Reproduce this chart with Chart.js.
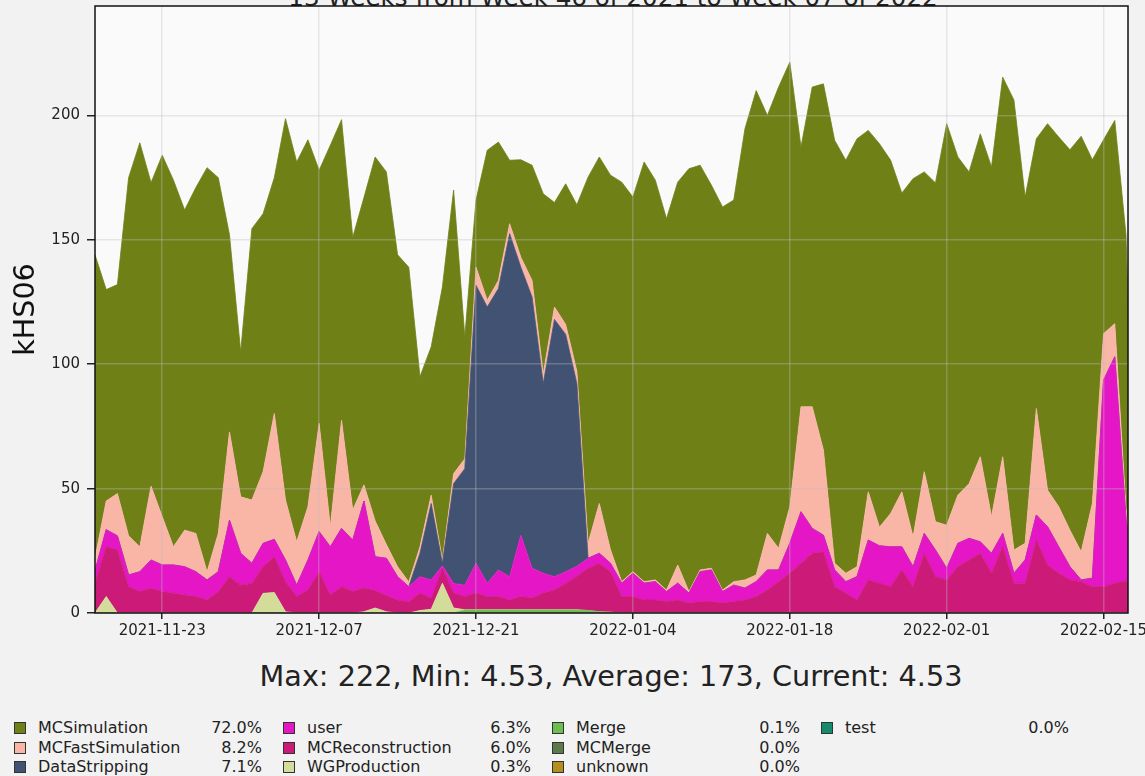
<!DOCTYPE html>
<html>
<head>
<meta charset="utf-8">
<script src="https://cdn.jsdelivr.net/npm/chart.js@4.4.1/dist/chart.umd.min.js"></script>
<style>
  html, body { margin: 0; padding: 0; width: 1145px; height: 776px; overflow: hidden; background: #f2f2f2; font-family: "DejaVu Sans", sans-serif; color: #222; }
  #wrap { position: absolute; left: 0; top: 0; width: 1145px; height: 650px; }
  #title { position: absolute; left: 0; top: -17.5px; width: 1226px; text-align: center; font-size: 24.6px; white-space: nowrap; }
  #stats { position: absolute; left: 0; top: 659px; width: 1222px; text-align: center; font-size: 28.7px; white-space: nowrap; }
  .sq { position: absolute; width: 10px; height: 10px; border: 1px solid #333; }
  .lab, .pct { position: absolute; font-size: 16px; line-height: 19px; white-space: nowrap; }
  .pct { text-align: right; width: 80px; }
</style>
</head>
<body>
<div id="title">13 Weeks from Week 46 of 2021 to Week 07 of 2022</div>
<div id="wrap"><canvas id="chart"></canvas></div>
<div id="stats">Max: 222, Min: 4.53, Average: 173, Current: 4.53</div>
<div id="legend"></div>
<script>
// daily values, first day 2021-11-17
const MCSimulation = [122, 85, 84, 144, 162.4, 122, 145.3, 147.4, 128.7, 139, 162.4, 143, 79.2, 58.3, 109.1, 103.7, 94.8, 153.3, 152.7, 147.5,
  101.8, 153.3, 120.8, 109.6, 115.5, 146.3, 149.8, 125.4, 126.5, 68.4, 59.6, 109.7, 114, 49, 27, 60.3, 55.6, 25.5, 39.2, 46.3,
  72.5, 42, 56.5, 66.9, 147.2, 139.3, 150.6, 160.6, 150.6, 168.7, 160.7, 149.3, 153.9, 170, 162.7, 154, 154, 153.4, 181.4, 194.7,
  168, 185.4, 178.7, 104.4, 128.5, 147.2, 170, 166, 172, 145.3, 154.1, 142, 120.1, 144, 120.5, 136.2, 161.4, 135.9, 125.3, 129.8,
  140.6, 152.6, 180.9, 139.2, 108.4, 147.3, 148.6, 152.9, 167, 138.2, 77.9, 81.7, 110, 0];
const MCFastSimulation = [5, 11.5, 17, 15.7, 10, 29.7, 19.4, 7.3, 14.7, 15.4, 3.3, 15.4, 35.5, 22.7, 25.4, 28.8, 50.6, 24.1, 17.4, 21.4,
  43.5, 8.1, 43.5, 12.1, 6.5, 14.4, 5.5, 4, 1.9, 2.6, 3.4, 1.3, 4, 4, 7.3, 2.7, 3.3, 4, 4, 6.7,
  3.8, 5, 4, 5, 6, 20, 5.4, 0.6, 0.6, 0.6, 0.7, 0.6, 7.3, 0.6, 0.7, 0.7, 0.6, 1.4, 3.3, 2.7,
  14.7, 8.7, 14.7, 42.2, 48.9, 34.2, 2.7, 3.4, 4, 19.4, 7.5, 13.4, 22.1, 12, 24.8, 11.4, 17.3, 19.4, 22, 34.2,
  14.7, 30.8, 9.3, 6.7, 42.8, 14.7, 16.1, 14.7, 11.3, 30, 18.7, 13.3, 4, 0.5];
const DataStripping = [0, 0, 0, 0, 0, 0, 0, 0, 0, 0, 0, 0, 0, 0, 0, 0, 0, 0, 0, 0,
  0, 0, 0, 0, 0, 0, 0, 0, 0, 9.4, 30.7, 1, 40.1, 46.8, 111.7, 111, 113.1, 137.9, 107.7, 109,
  76.2, 103.4, 95.4, 73.4, 0, 0, 0, 0, 0, 0, 0, 0, 0, 0, 0, 0, 0, 0, 0, 0,
  0, 0, 0, 0, 0, 0, 0, 0, 0, 0, 0, 0, 0, 0, 0, 0, 0, 0, 0, 0,
  0, 0, 0, 0, 0, 0, 0, 0, 0, 0, 0, 0, 0, 0];
const user = [5, 6.9, 5.7, 4.7, 8, 11.4, 10.7, 11.4, 11.4, 10, 8.1, 8, 22.7, 12.8, 8.1, 9.4, 7, 8.7, 4.6, 12.1,
  16.1, 19.4, 23.4, 20.7, 35, 13.6, 15, 9.4, 6.1, 6.6, 7.3, 1, 3.9, 4.6, 12, 5.4, 10.7, 9.4, 24.7, 12,
  8, 5.4, 4.7, 4, 4, 4, 3.4, 5.4, 9.4, 6.8, 7.4, 4, 6.8, 4, 12, 12.7, 4.6, 6.6, 4.8, 6,
  8.1, 4.7, 12, 20.7, 10, 6.7, 6.7, 4.6, 9.4, 16, 15, 16, 9.3, 8, 8, 10.7, 4.7, 9.4, 8.7, 4.6,
  8, 5.4, 4, 9.3, 10.1, 15.4, 10.6, 5.3, 0.7, 3.4, 83, 91, 25, 1];
const MCReconstruction = [12, 20, 25.3, 10.6, 8.6, 9.9, 8.6, 7.9, 7.2, 6.6, 5.2, 8.6, 14.6, 11.2, 11.9, 10.7, 14.4, 12.1, 6.6, 9.2,
  16.6, 7.2, 10.6, 8.6, 9.5, 7, 6.5, 5.2, 4.5, 7, 4.5, 6, 6, 5.3, 6.7, 5.3, 5.3, 3.9, 5.3, 4.7,
  6.7, 7.9, 10.6, 13.5, 17, 19.5, 16.3, 6.6, 6.6, 5.2, 5.2, 4.6, 5.2, 4, 4.6, 4.6, 4, 4.6, 5.2, 6.6,
  9.2, 12.6, 16, 20, 24, 24.6, 10.6, 8, 5.2, 13.3, 12, 10.6, 17.3, 10.6, 24, 14.6, 13.3, 18.6, 21.3, 24,
  16, 26.6, 12, 12, 29.3, 19.3, 16, 13.3, 12.6, 10.6, 10.6, 12, 13, 3];
const WGProduction = [0, 6.6, 0, 0, 0, 0, 0, 0, 0, 0, 0, 0, 0, 0, 0, 7.9, 8.2, 0.5, 0, 0,
  0, 0, 0, 0, 0.5, 2, 0.5, 0, 0, 1, 1.5, 12, 2, 0.1, 0.1, 0.1, 0.1, 0.1, 0.1, 0.1,
  0.1, 0.1, 0.1, 0.1, 0, 0, 0, 0, 0, 0, 0, 0, 0, 0, 0, 0, 0, 0, 0, 0,
  0, 0, 0, 0, 0, 0, 0, 0, 0, 0, 0, 0, 0, 0, 0, 0, 0, 0, 0, 0,
  0, 0, 0, 0, 0, 0, 0, 0, 0, 0, 0, 0, 0, 0];
const Merge = [0, 0, 0, 0, 0, 0, 0, 0, 0, 0, 0, 0, 0, 0, 0, 0, 0, 0, 0, 0,
  0, 0, 0, 0, 0, 0, 0, 0, 0, 0, 0, 0, 0, 1.2, 1.2, 1.2, 1.2, 1.2, 1.2, 1.2,
  1.2, 1.2, 1.2, 1.2, 1, 0.5, 0.3, 0, 0, 0, 0, 0, 0, 0, 0, 0, 0, 0, 0, 0,
  0, 0, 0, 0, 0, 0, 0, 0, 0, 0, 0, 0, 0, 0, 0, 0, 0, 0, 0, 0,
  0, 0, 0, 0, 0, 0, 0, 0, 0, 0, 0, 0, 0, 0];

const tickDays = [6, 20, 34, 48, 62, 76, 90];
const tickLabels = ['2021-11-23', '2021-12-07', '2021-12-21', '2022-01-04', '2022-01-18', '2022-02-01', '2022-02-15'];

const legendNames = ['MCSimulation', 'MCFastSimulation', 'DataStripping', 'user', 'MCReconstruction', 'WGProduction', 'Merge', 'MCMerge', 'unknown', 'test'];
const legendPct = ['72.0%', '8.2%', '7.1%', '6.3%', '6.0%', '0.3%', '0.1%', '0.0%', '0.0%', '0.0%'];
const colors = {
  MCSimulation: '#6f8016', MCFastSimulation: '#f9b6a6', DataStripping: '#425272', user: '#e416c6',
  MCReconstruction: '#cc1a78', WGProduction: '#d3dc98', Merge: '#6cbf4e', MCMerge: '#5b7a4a',
  unknown: '#b48e1e', test: '#178a6c'
};

// legend below the chart
const legend = document.getElementById('legend');
legendNames.forEach((name, i) => {
  const col = Math.floor(i / 3), row = i % 3;
  const cx = col * 269, cy = 728 + row * 19.5;
  const sq = document.createElement('div');
  sq.className = 'sq';
  sq.style.left = (14 + cx) + 'px';
  sq.style.top = (cy - 6) + 'px';
  sq.style.background = colors[name];
  const lab = document.createElement('div');
  lab.className = 'lab';
  lab.style.left = (38 + cx) + 'px';
  lab.style.top = (cy - 10) + 'px';
  lab.textContent = name;
  const pct = document.createElement('div');
  pct.className = 'pct';
  pct.style.left = (262 + cx - 80) + 'px';
  pct.style.top = (cy - 10) + 'px';
  pct.textContent = legendPct[i];
  legend.append(sq, lab, pct);
});

const stack = [
  ['Merge', Merge], ['WGProduction', WGProduction], ['MCReconstruction', MCReconstruction], ['user', user],
  ['DataStripping', DataStripping], ['MCFastSimulation', MCFastSimulation], ['MCSimulation', MCSimulation]
];
const days = MCSimulation.map((_, i) => i);

const datasets = stack.map(([name, values], k) => ({
  label: name,
  data: values.map((v, i) => ({ x: days[i], y: v })),
  backgroundColor: colors[name],
  borderColor: colors[name],
  borderWidth: 0.8,
  pointRadius: 0,
  tension: 0,
  fill: k === 0 ? 'origin' : '-1'
}));

const frame = {
  id: 'frame',
  beforeDraw(chart) {
    const { ctx, chartArea: a } = chart;
    ctx.save();
    ctx.fillStyle = '#fafafa';
    ctx.fillRect(a.left, a.top, a.right - a.left, a.bottom - a.top);
    ctx.restore();
  },
  afterDraw(chart) {
    const { ctx, chartArea: a } = chart;
    ctx.save();
    ctx.strokeStyle = '#111';
    ctx.lineWidth = 1.5;
    ctx.strokeRect(a.left, a.top, a.right - a.left, a.bottom - a.top);
    ctx.restore();
  }
};

new Chart(document.getElementById('chart'), {
  type: 'line',
  data: { datasets },
  options: {
    responsive: true,
    maintainAspectRatio: false,
    animation: false,
    layout: { padding: { top: 6, right: 17, left: 0, bottom: 0 } },
    plugins: { legend: { display: false }, tooltip: { enabled: false } },
    scales: {
      x: {
        type: 'linear',
        min: 0,
        max: 92.18,
        afterBuildTicks: s => { s.ticks = tickDays.map(v => ({ value: v })); },
        afterFit: s => { s.height = 37; s.paddingLeft = 0; s.paddingRight = 0; },
        ticks: {
          autoSkip: false, maxRotation: 0, padding: 3, color: '#222',
          font: { family: 'DejaVu Sans', size: 15 },
          callback: v => tickLabels[tickDays.indexOf(v)]
        },
        grid: { color: 'rgba(190,190,190,0.35)', lineWidth: 1.5, z: 1, tickColor: '#222', tickLength: 6 },
        border: { display: false }
      },
      y: {
        stacked: true,
        min: 0,
        max: 244,
        afterFit: s => { s.width = 95; s.paddingTop = 0; s.paddingBottom = 0; },
        ticks: {
          stepSize: 50, includeBounds: false, padding: 7, color: '#222',
          font: { family: 'DejaVu Sans', size: 15 }
        },
        grid: { color: 'rgba(190,190,190,0.35)', lineWidth: 1.5, z: 1, tickColor: '#222', tickLength: 8 },
        border: { display: false },
        title: {
          display: true, text: 'kHS06', color: '#111',
          font: { family: 'DejaVu Sans', size: 28.6 },
          padding: { top: 9, bottom: 0 }
        }
      }
    }
  },
  plugins: [frame]
});
</script>
</body>
</html>
